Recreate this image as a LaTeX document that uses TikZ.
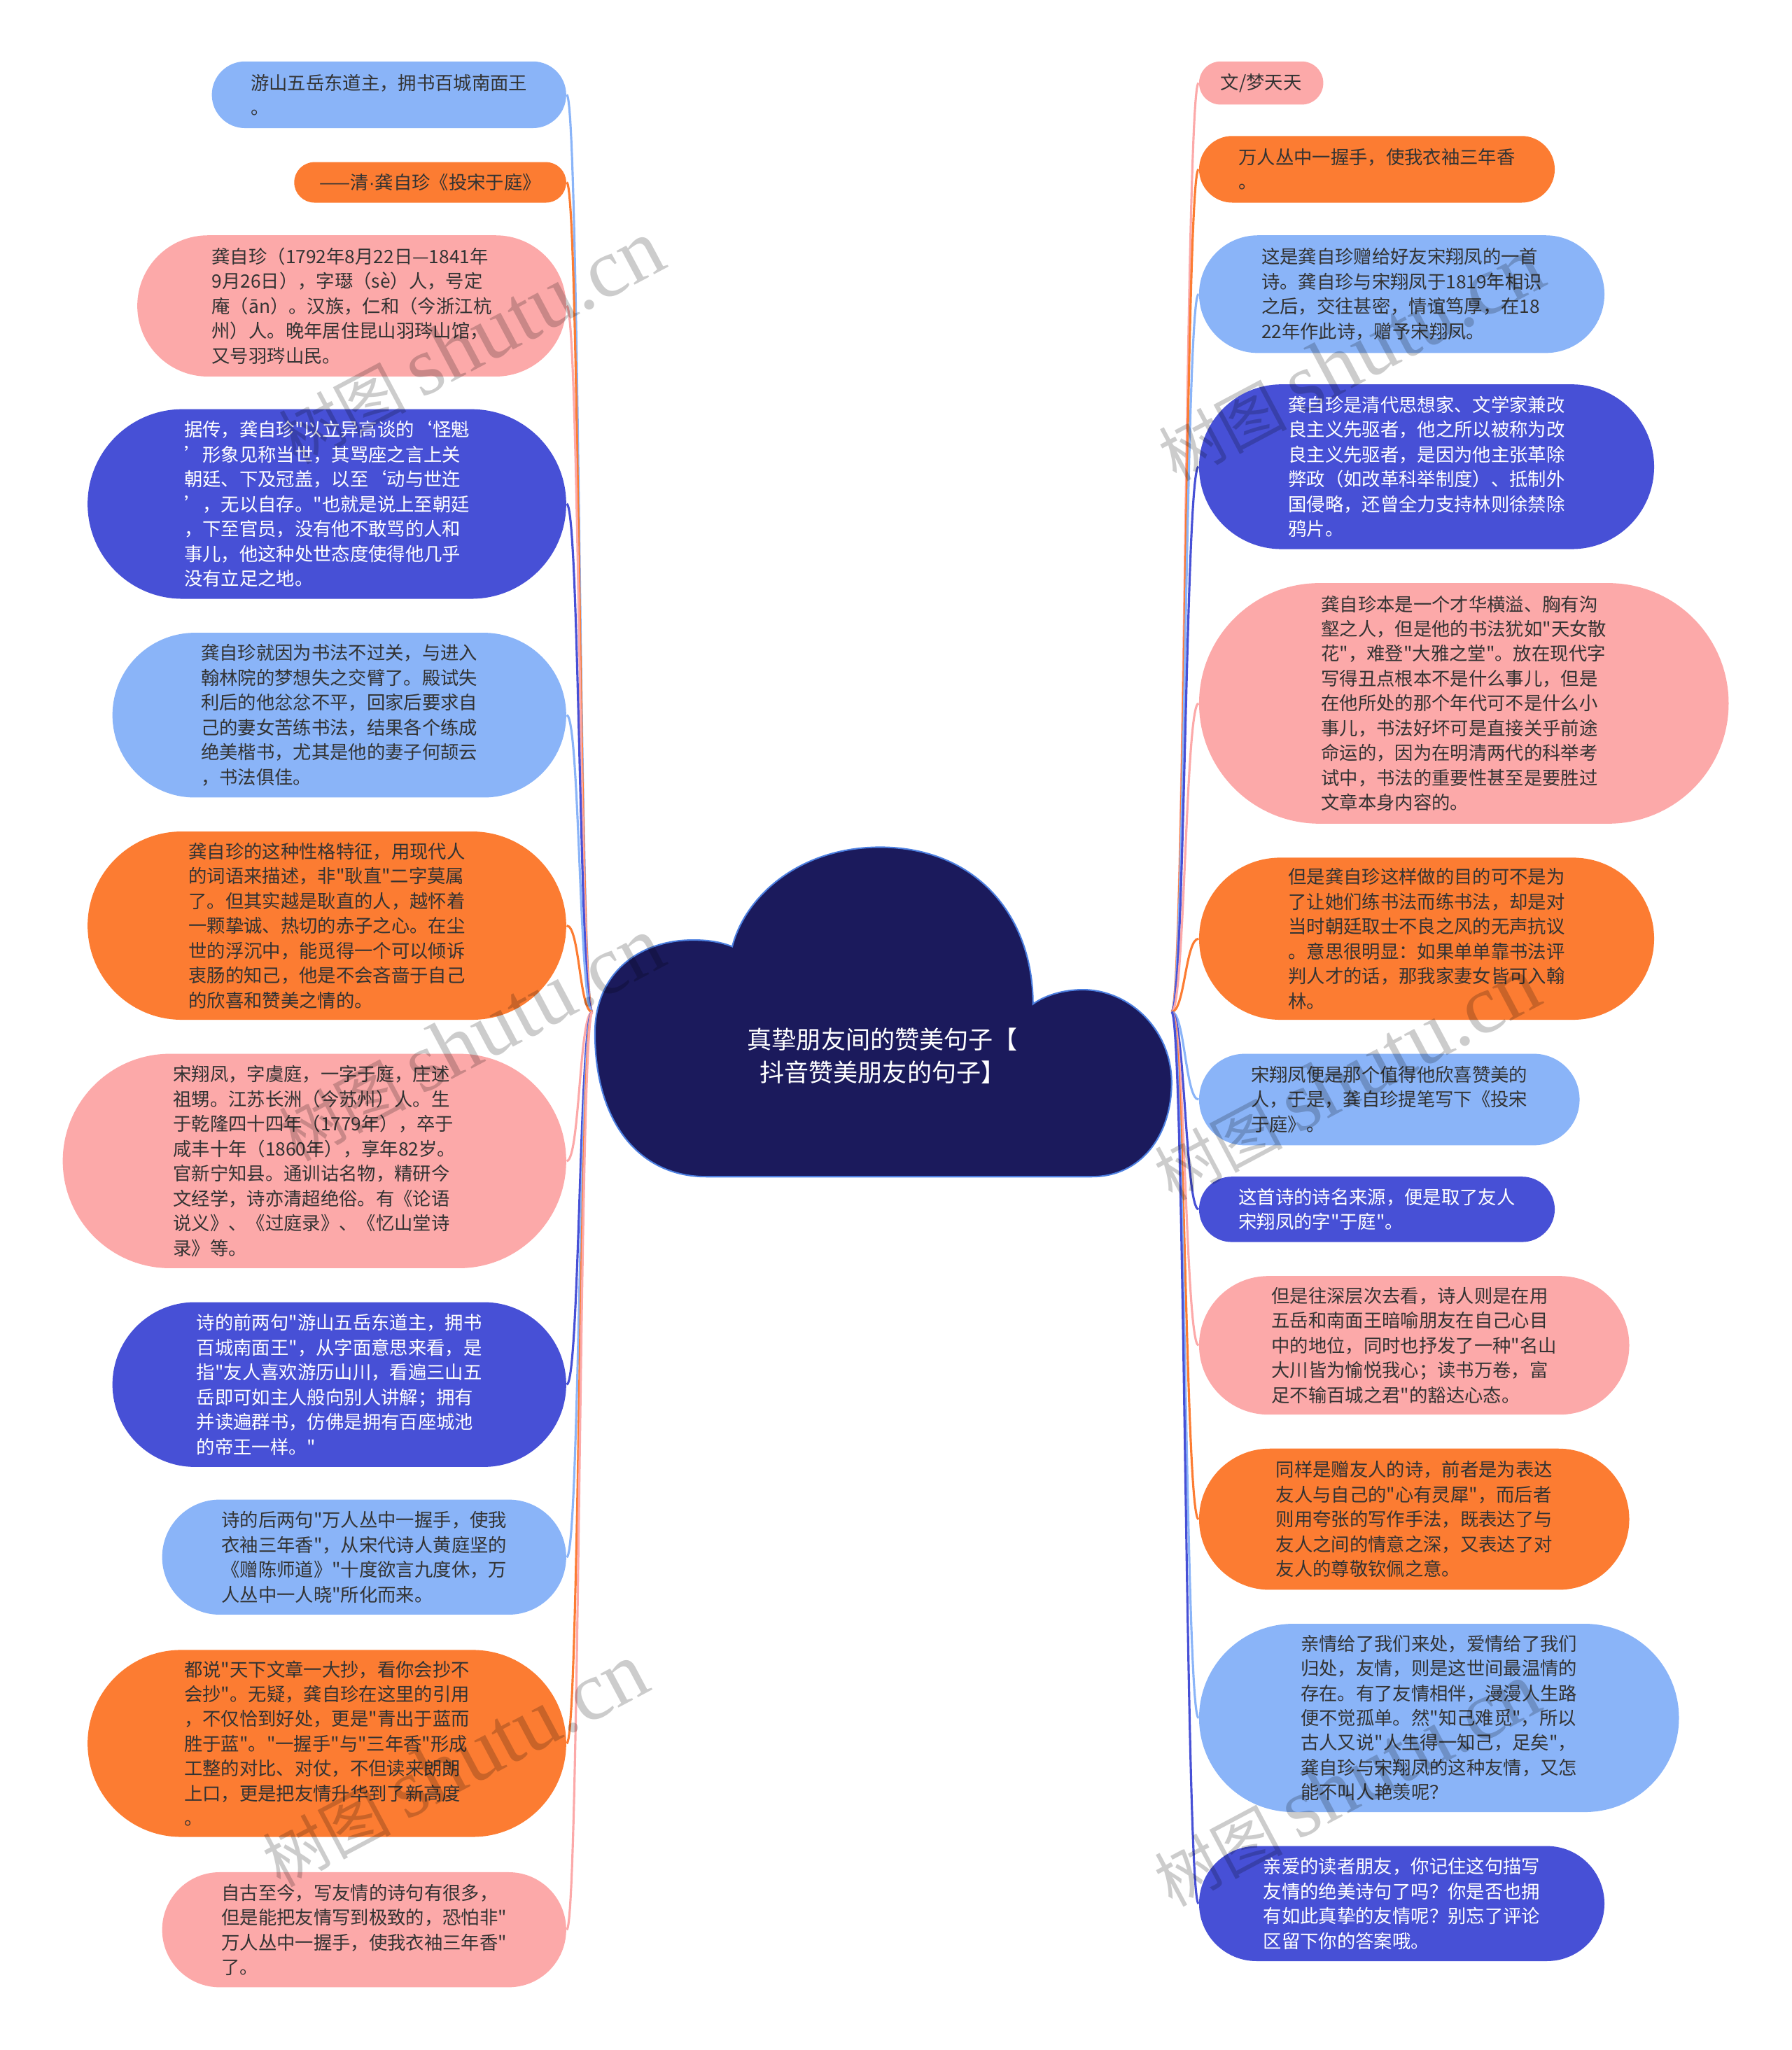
\documentclass[tikz,border=0pt]{standalone}
\usepackage{fontspec}
\newfontfamily\cjk{Noto Sans CJK SC}
\newfontfamily\latinsans{Liberation Sans}
\newfontfamily\wmlatin{Liberation Serif}
\definecolor{lblue}{HTML}{8AB4F8}
\definecolor{orng}{HTML}{FC7C32}
\definecolor{pnk}{HTML}{FCA9A9}
\definecolor{indg}{HTML}{4750D6}
\definecolor{navy}{HTML}{1B1A5C}
\definecolor{ink}{HTML}{333333}
\definecolor{cloudedge}{HTML}{4C7FE0}
\newcommand\pxu{0.018686cm}

\begin{document}
\begin{tikzpicture}[x=\pxu, y=-\pxu,
  leaf/.style 2 args={rectangle, minimum width=#1*\pxu, minimum height=#2*\pxu,
    rounded corners=#2*0.5*\pxu, inner sep=0pt, align=left, text=ink,
    font=\cjk\fontsize{7.5pt}{10.1pt}\selectfont},
  link/.style={line width=0.9pt},
  wmark/.style={text=black, text opacity=0.2, rotate=28, inner sep=0pt,
    font=\cjk\fontsize{26pt}{26pt}\selectfont}]
\useasboundingbox (0,0) rectangle (1370,1568);

\draw[fill=navy, draw=cloudedge, line width=0.6pt] (540,900) -- (835,900)
  .. controls (873,900) and (896,868) .. (896,828)
  .. controls (896,788) and (864,757) .. (828,757)
  .. controls (812,757) and (798,762) .. (790,768)
  .. controls (790,700) and (746,648) .. (673,648)
  .. controls (612,648) and (570,685) .. (560,724)
  .. controls (550,720) and (540,719) .. (530,719)
  .. controls (488,719) and (455,745) .. (455,790)
  .. controls (455,860) and (490,900) .. (540,900) -- cycle;
\node[text=white, align=center, font=\cjk\fontsize{10pt}{13.3pt}\selectfont] (root) at (675,807.5)
  {真挚朋友间的赞美句子【\\抖音赞美朋友的句子】};
\coordinate (hubL) at (453,774);
\coordinate (hubR) at (896,774);

\node[leaf={271}{51}, fill=lblue] (L1) at (297.5,72.5) {游山五岳东道主，拥书百城南面王\\。};
\node[leaf={208}{31}, fill=orng] (L2) at (329,139.5) {——清{\latinsans ·}龚自珍《投宋于庭》};
\node[leaf={328}{108}, fill=pnk] (L3) at (269,234) {龚自珍（1792年8月22日—1841年\\9月26日），字璱（sè）人，号定\\庵（ān）。汉族，仁和（今浙江杭\\州）人。晚年居住昆山羽琌山馆，\\又号羽琌山民。};
\node[leaf={366}{145}, fill=indg, text=white] (L4) at (250,385.5) {据传，龚自珍"以立异高谈的‘怪魁\\’形象见称当世，其骂座之言上关\\朝廷、下及冠盖，以至‘动与世迕\\’，无以自存。"也就是说上至朝廷\\，下至官员，没有他不敢骂的人和\\事儿，他这种处世态度使得他几乎\\没有立足之地。};
\node[leaf={347}{126}, fill=lblue] (L5) at (259.5,547) {龚自珍就因为书法不过关，与进入\\翰林院的梦想失之交臂了。殿试失\\利后的他忿忿不平，回家后要求自\\己的妻女苦练书法，结果各个练成\\绝美楷书，尤其是他的妻子何颉云\\，书法俱佳。};
\node[leaf={366}{144}, fill=orng] (L6) at (250,708) {龚自珍的这种性格特征，用现代人\\的词语来描述，非"耿直"二字莫属\\了。但其实越是耿直的人，越怀着\\一颗挚诚、热切的赤子之心。在尘\\世的浮沉中，能觅得一个可以倾诉\\衷肠的知己，他是不会吝啬于自己\\的欣喜和赞美之情的。};
\node[leaf={385}{164}, fill=pnk] (L7) at (240.5,888) {宋翔凤，字虞庭，一字于庭，庄述\\祖甥。江苏长洲（今苏州）人。生\\于乾隆四十四年（1779年），卒于\\咸丰十年（1860年），享年82岁。\\官新宁知县。通训诂名物，精研今\\文经学，诗亦清超绝俗。有《论语\\说义》、《过庭录》、《忆山堂诗\\录》等。};
\node[leaf={347}{126}, fill=indg, text=white] (L8) at (259.5,1059) {诗的前两句"游山五岳东道主，拥书\\百城南面王"，从字面意思来看，是\\指"友人喜欢游历山川，看遍三山五\\岳即可如主人般向别人讲解；拥有\\并读遍群书，仿佛是拥有百座城池\\的帝王一样。"};
\node[leaf={309}{88}, fill=lblue] (L9) at (278.5,1191) {诗的后两句"万人丛中一握手，使我\\衣袖三年香"，从宋代诗人黄庭坚的\\《赠陈师道》"十度欲言九度休，万\\人丛中一人晓"所化而来。};
\node[leaf={366}{143}, fill=orng] (L10) at (250,1333.5) {都说"天下文章一大抄，看你会抄不\\会抄"。无疑，龚自珍在这里的引用\\，不仅恰到好处，更是"青出于蓝而\\胜于蓝"。"一握手"与"三年香"形成\\工整的对比、对仗，不但读来朗朗\\上口，更是把友情升华到了新高度\\。};
\node[leaf={309}{88}, fill=pnk] (L11) at (278.5,1476) {自古至今，写友情的诗句有很多，\\但是能把友情写到极致的，恐怕非"\\万人丛中一握手，使我衣袖三年香"\\了。};

\node[leaf={95}{33}, fill=pnk] (R1) at (964.5,63.5) {文/梦天天};
\node[leaf={272}{51}, fill=orng] (R2) at (1053,129.5) {万人丛中一握手，使我衣袖三年香\\。};
\node[leaf={310}{90}, fill=lblue] (R3) at (1072,225) {这是龚自珍赠给好友宋翔凤的一首\\诗。龚自珍与宋翔凤于1819年相识\\之后，交往甚密，情谊笃厚，在18\\22年作此诗，赠予宋翔凤。};
\node[leaf={348}{126}, fill=indg, text=white] (R4) at (1091,357) {龚自珍是清代思想家、文学家兼改\\良主义先驱者，他之所以被称为改\\良主义先驱者，是因为他主张革除\\弊政（如改革科举制度）、抵制外\\国侵略，还曾全力支持林则徐禁除\\鸦片。};
\node[leaf={405}{184}, fill=pnk] (R5) at (1119.5,538) {龚自珍本是一个才华横溢、胸有沟\\壑之人，但是他的书法犹如"天女散\\花"，难登"大雅之堂"。放在现代字\\写得丑点根本不是什么事儿，但是\\在他所处的那个年代可不是什么小\\事儿，书法好坏可是直接关乎前途\\命运的，因为在明清两代的科举考\\试中，书法的重要性甚至是要胜过\\文章本身内容的。};
\node[leaf={348}{124}, fill=orng] (R6) at (1091,718) {但是龚自珍这样做的目的可不是为\\了让她们练书法而练书法，却是对\\当时朝廷取士不良之风的无声抗议\\。意思很明显：如果单单靠书法评\\判人才的话，那我家妻女皆可入翰\\林。};
\node[leaf={291}{70}, fill=lblue] (R7) at (1062.5,841) {宋翔凤便是那个值得他欣喜赞美的\\人，于是，龚自珍提笔写下《投宋\\于庭》。};
\node[leaf={272}{50}, fill=indg, text=white] (R8) at (1053,925) {这首诗的诗名来源，便是取了友人\\宋翔凤的字"于庭"。};
\node[leaf={329}{106}, fill=pnk] (R9) at (1081.5,1029) {但是往深层次去看，诗人则是在用\\五岳和南面王暗喻朋友在自己心目\\中的地位，同时也抒发了一种"名山\\大川皆为愉悦我心；读书万卷，富\\足不输百城之君"的豁达心态。};
\node[leaf={329}{108}, fill=orng] (R10) at (1081.5,1162) {同样是赠友人的诗，前者是为表达\\友人与自己的"心有灵犀"，而后者\\则用夸张的写作手法，既表达了与\\友人之间的情意之深，又表达了对\\友人的尊敬钦佩之意。};
\node[leaf={367}{144}, fill=lblue] (R11) at (1100.5,1314) {亲情给了我们来处，爱情给了我们\\归处，友情，则是这世间最温情的\\存在。有了友情相伴，漫漫人生路\\便不觉孤单。然"知己难觅"，所以\\古人又说"人生得一知己，足矣"，\\龚自珍与宋翔凤的这种友情，又怎\\能不叫人艳羡呢？};
\node[leaf={310}{88}, fill=indg, text=white] (R12) at (1072,1456) {亲爱的读者朋友，你记住这句描写\\友情的绝美诗句了吗？你是否也拥\\有如此真挚的友情呢？别忘了评论\\区留下你的答案哦。};

\foreach \n/\c in {L1/lblue,L2/orng,L3/pnk,L4/indg,L5/lblue,L6/orng,L7/pnk,L8/indg,L9/lblue,L10/orng,L11/pnk}
  \draw[link,\c] (hubL) .. controls +(-10,0) and +(10,0) .. (\n.east);
\foreach \n/\c in {R1/pnk,R2/orng,R3/lblue,R4/indg,R5/pnk,R6/orng,R7/lblue,R8/indg,R9/pnk,R10/orng,R11/lblue,R12/indg}
  \draw[link,\c] (hubR) .. controls +(10,0) and +(-10,0) .. (\n.west);

\node[wmark] (wm1) at (360,262) {树图 {\wmlatin\fontsize{34pt}{34pt}\selectfont shutu.cn}};
\node[wmark] (wm2) at (1033,275) {树图 {\wmlatin\fontsize{34pt}{34pt}\selectfont shutu.cn}};
\node[wmark] (wm3) at (360,795) {树图 {\wmlatin\fontsize{34pt}{34pt}\selectfont shutu.cn}};
\node[wmark] (wm4) at (1030,825) {树图 {\wmlatin\fontsize{34pt}{34pt}\selectfont shutu.cn}};
\node[wmark] (wm5) at (348,1350) {树图 {\wmlatin\fontsize{34pt}{34pt}\selectfont shutu.cn}};
\node[wmark] (wm6) at (1030,1365) {树图 {\wmlatin\fontsize{34pt}{34pt}\selectfont shutu.cn}};
\end{tikzpicture}
\end{document}
